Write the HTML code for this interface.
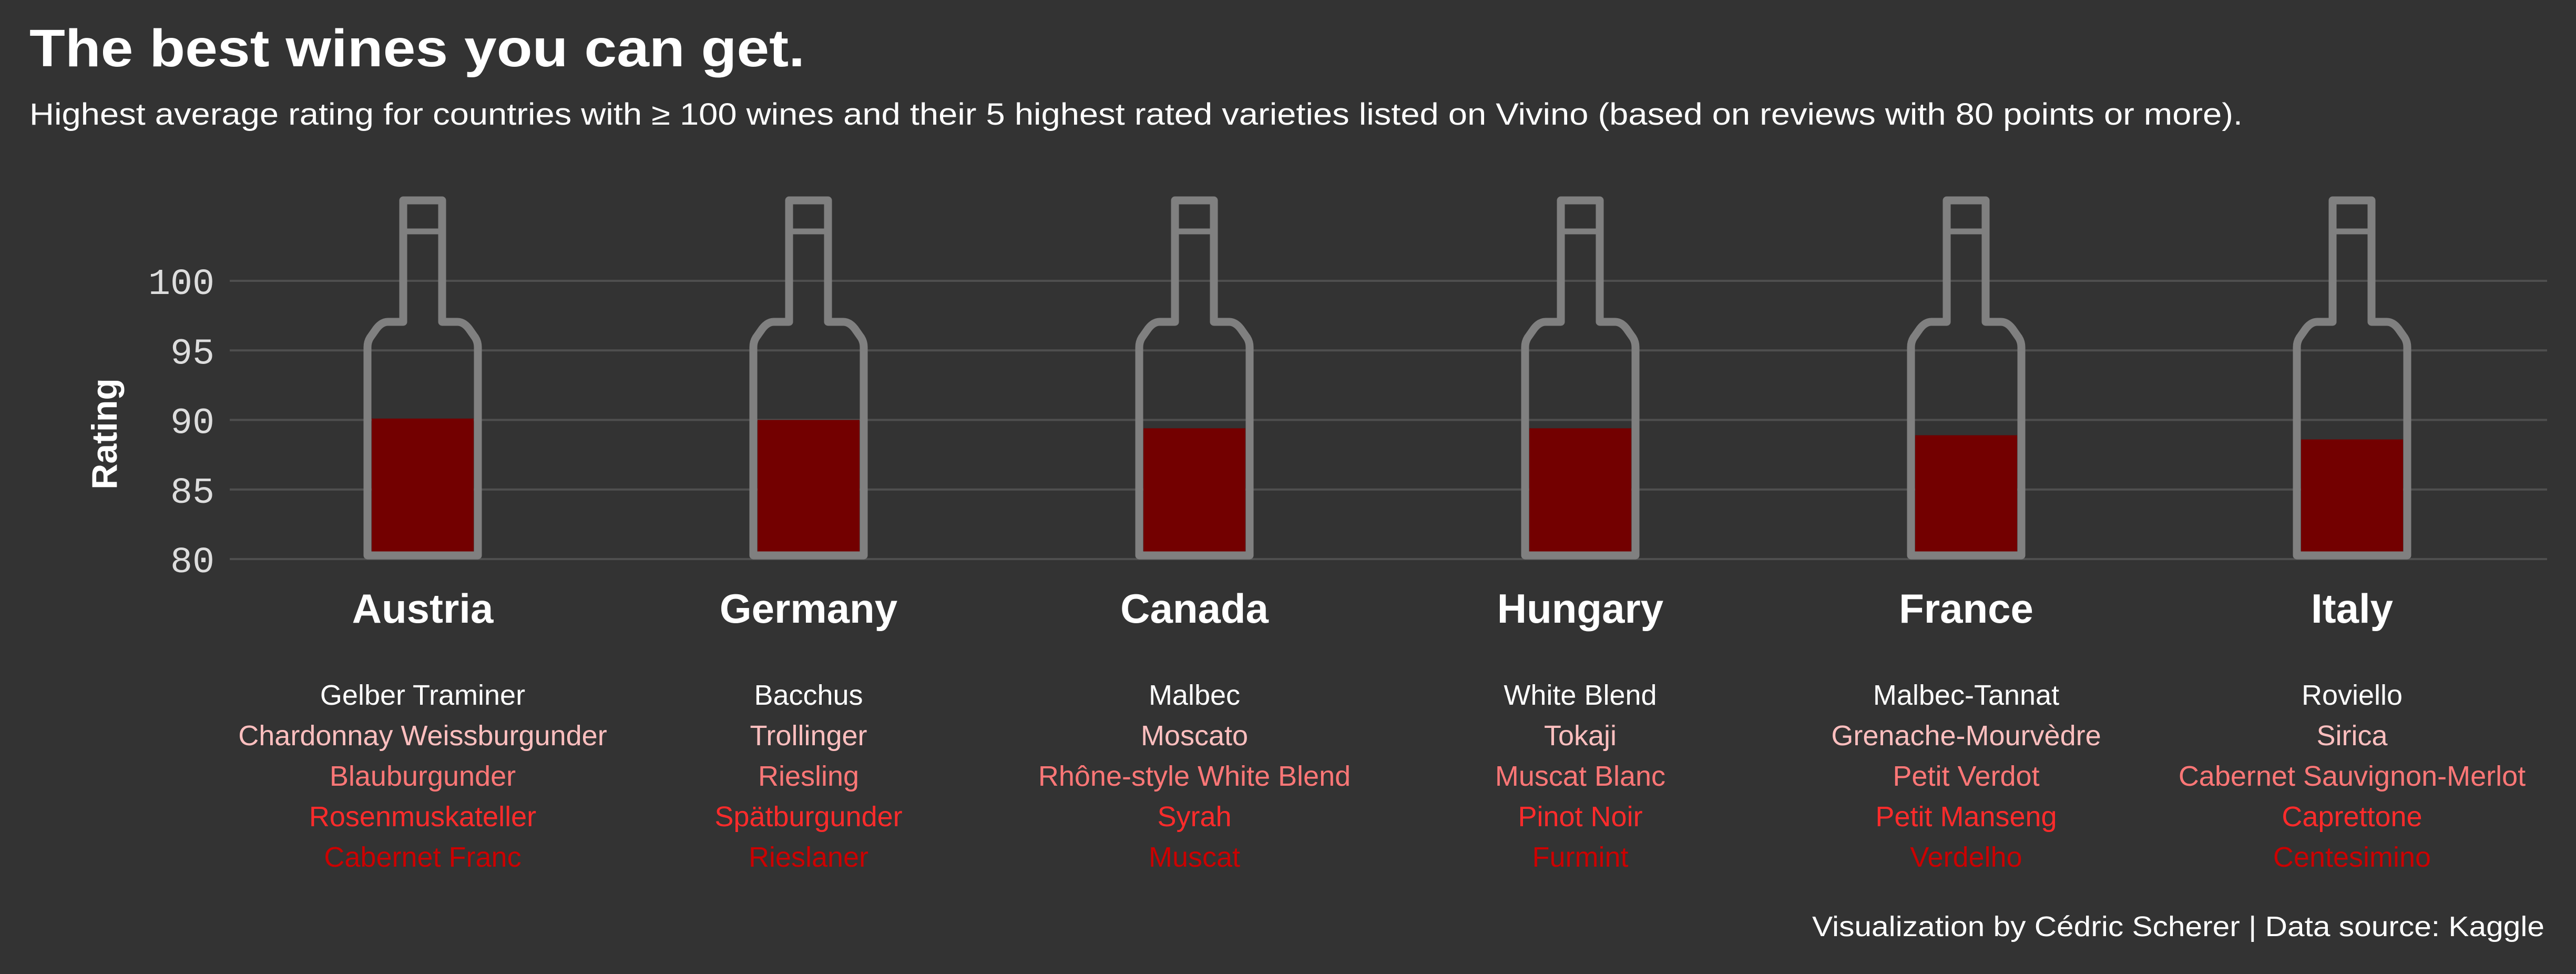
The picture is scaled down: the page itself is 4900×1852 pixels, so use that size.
<!DOCTYPE html>
<html><head><meta charset="utf-8"><style>
html,body{margin:0;padding:0;background:#333333;}
svg{display:block;}
</style></head><body>
<svg id="chart" width="4900" height="1852" viewBox="0 0 4900 1852" xmlns="http://www.w3.org/2000/svg">
<rect width="4900" height="1852" fill="#333333"/>
<text x="56" y="126" font-family="Liberation Sans, sans-serif" font-weight="bold" font-size="100" fill="#ffffff" textLength="1475" lengthAdjust="spacingAndGlyphs">The best wines you can get.</text>
<text x="56" y="237" font-family="Liberation Sans, sans-serif" font-size="58" fill="#ffffff" textLength="4210" lengthAdjust="spacingAndGlyphs">Highest average rating for countries with ≥ 100 wines and their 5 highest rated varieties listed on Vivino  (based on reviews with 80 points or more).</text>
<text transform="translate(222,825) rotate(-90)" text-anchor="middle" font-family="Liberation Sans, sans-serif" font-weight="bold" font-size="68" fill="#ffffff">Rating</text>
<g id="grid"></g>
<g id="bottles"></g>
<text x="4840" y="1780" text-anchor="end" font-family="Liberation Sans, sans-serif" font-size="54" fill="#ffffff" textLength="1393" lengthAdjust="spacingAndGlyphs">Visualization by Cédric Scherer  |  Data source: Kaggle</text>
</svg>
<script>
const countries = ["Austria","Germany","Canada","Hungary","France","Italy"];
const ratings = [90.1, 90.0, 89.4, 89.4, 88.9, 88.6];
const ticks = [80, 85, 90, 95, 100];
const varieties = [
 ["Gelber Traminer","Chardonnay Weissburgunder","Blauburgunder","Rosenmuskateller","Cabernet Franc"],
 ["Bacchus","Trollinger","Riesling","Spätburgunder","Rieslaner"],
 ["Malbec","Moscato","Rhône-style White Blend","Syrah","Muscat"],
 ["White Blend","Tokaji","Muscat Blanc","Pinot Noir","Furmint"],
 ["Malbec-Tannat","Grenache-Mourvèdre","Petit Verdot","Petit Manseng","Verdelho"],
 ["Roviello","Sirica","Cabernet Sauvignon-Merlot","Caprettone","Centesimino"]
];
const varColors = ["#ffffff","#ffbfbf","#ff7777","#ff2b2b","#cc0000"];
const NS="http://www.w3.org/2000/svg";
function y(v){return 1063-(v-80)*26.45;}
function x(i){return 804+i*734;}
function mk(tag,attrs,parent){const e=document.createElementNS(NS,tag);for(const k in attrs)e.setAttribute(k,attrs[k]);parent.appendChild(e);return e;}
const grid=document.getElementById('grid');
ticks.forEach(t=>{
  const l=mk('line',{x1:437,x2:4845,y1:y(t),y2:y(t),stroke:'#4f4f4f','stroke-width':4},grid);
  
  
  const tx=mk('text',{x:408,y:y(t)+25,'text-anchor':'end','font-family':'Liberation Mono, monospace','font-size':70,fill:'#dddddd'},grid);
  tx.textContent=t;
  
  
});
const bg=document.getElementById('bottles');
countries.forEach((c,i)=>{
  const cx=x(i);
  const g=mk('g',{},bg);
  
  
  const f=mk('rect',{x:cx-97,y:y(ratings[i]),width:194,height:1050-y(ratings[i]),fill:'#730000'},g);
  
  
  const d=`M${cx-37},381 H${cx+37} V612 H${cx+66} Q${cx+78},612 ${cx+88},625 L${cx+100},642 Q${cx+105},650 ${cx+105},660 V1056 H${cx-105} V660 Q${cx-105},650 ${cx-100},642 L${cx-88},625 Q${cx-78},612 ${cx-66},612 H${cx-37} Z`;
  const p=mk('path',{d:d,fill:'none',stroke:'#808080','stroke-width':15,'stroke-linejoin':'round'},g);
  
  
  const cap=mk('line',{x1:cx-37,x2:cx+37,y1:440,y2:440,stroke:'#808080','stroke-width':11},g);
  
  
  const lab=mk('text',{x:cx,y:1184,'text-anchor':'middle','font-family':'Liberation Sans, sans-serif','font-weight':'bold','font-size':78,fill:'#ffffff'},g);
  lab.textContent=c;
  
  
  varieties[i].forEach((v,j)=>{
    const t=mk('text',{x:cx,y:1340+j*77,'text-anchor':'middle','font-family':'Liberation Sans, sans-serif','font-size':54,fill:varColors[j]},g);
    t.textContent=v;
    
    
  });
});
</script>
</body></html>
